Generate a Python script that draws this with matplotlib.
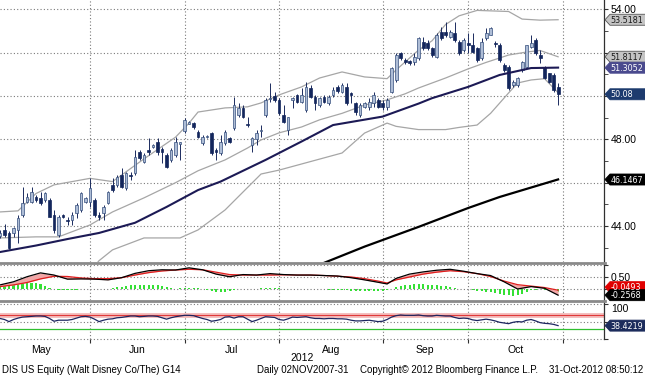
import numpy as np
import matplotlib
matplotlib.use("Agg")
import matplotlib.pyplot as plt
from matplotlib.lines import Line2D
from matplotlib.patches import Polygon
from matplotlib import font_manager

# trading-day slots, 0 = 1 May 2012
day = np.arange(2, 127)
month_starts = [0, 22, 43, 64, 87, 106, 127]
month_names = ["May", "Jun", "Jul", "Aug", "Sep", "Oct"]

opens = [43.54, 43.82, 43.66, 43.66, 43.82, 44.51, 45.12, 45.12, 45.35, 45.28,
         45.20, 45.20, 44.51, 43.60, 44.50, 44.30, 44.28, 44.58, 44.74, 45.10,
         45.12, 45.20, 44.50, 44.58, 45.05, 45.89, 45.89, 46.35, 45.74, 46.35,
         46.43, 47.43, 46.97, 47.50, 47.66, 47.90, 47.54, 47.28, 47.05, 47.28,
         47.80, 48.40, 48.72, 48.74, 48.35, 47.85, 48.10, 48.28, 47.52, 47.35,
         47.85, 48.05, 48.51, 49.12, 49.43, 48.68, 47.74, 48.00, 48.40, 49.12,
         49.85, 50.00, 49.82, 49.12, 48.43, 49.82, 50.05, 49.74, 49.36, 50.36,
         49.97, 49.59, 49.97, 49.70, 50.05, 50.40, 50.20, 50.43, 50.13, 49.66,
         49.12, 49.50, 49.51, 49.66, 49.82, 49.66, 49.51, 50.20, 50.74, 51.97,
         51.66, 51.60, 51.59, 51.74, 52.51, 52.43, 52.20, 51.82, 52.97, 52.97,
         52.70, 52.89, 52.51, 52.12, 52.43, 52.36, 52.20, 51.74, 52.66, 52.82,
         52.45, 52.36, 51.43, 51.36, 50.51, 50.51, 51.20, 51.36, 52.28, 52.59,
         51.89, 51.36, 51.05, 50.97, 50.43]
highs = [43.80, 44.10, 43.75, 43.97, 44.51, 45.82, 45.51, 45.82, 45.42, 45.58,
         45.58, 45.28, 44.74, 44.51, 44.55, 44.43, 44.66, 45.05, 45.58, 45.35,
         46.20, 45.28, 44.66, 44.97, 45.60, 46.20, 46.35, 46.66, 46.50, 46.50,
         47.50, 47.50, 47.35, 48.05, 47.80, 48.05, 47.66, 47.35, 47.58, 48.12,
         47.90, 48.97, 48.85, 48.82, 48.43, 48.20, 48.20, 48.35, 47.60, 48.20,
         48.43, 48.10, 49.97, 49.66, 49.59, 49.02, 48.12, 48.43, 48.66, 49.90,
         50.59, 50.20, 49.90, 49.59, 49.05, 49.97, 50.10, 50.36, 50.66, 50.51,
         50.05, 49.97, 50.05, 50.05, 50.43, 50.51, 50.62, 50.59, 50.20, 49.74,
         49.66, 49.74, 49.90, 50.20, 49.90, 49.82, 49.90, 51.36, 51.97, 52.05,
         51.74, 51.65, 51.97, 52.74, 52.74, 52.59, 52.28, 52.89, 53.20, 53.43,
         53.05, 53.43, 52.59, 52.66, 52.89, 52.89, 52.28, 52.66, 53.12, 53.20,
         52.55, 52.43, 51.51, 51.43, 50.74, 50.89, 51.60, 52.36, 52.82, 52.66,
         52.12, 51.40, 51.08, 51.05, 50.59]
lows = [43.43, 43.50, 42.93, 43.51, 43.20, 44.43, 45.05, 45.05, 45.12, 44.97,
        45.12, 44.40, 43.66, 43.51, 44.35, 44.05, 44.05, 44.35, 44.66, 45.05,
        44.89, 44.43, 44.28, 44.28, 45.00, 45.58, 45.82, 45.74, 45.66, 46.12,
        46.35, 47.05, 46.90, 47.28, 47.60, 47.28, 46.90, 46.66, 46.97, 47.20,
        47.05, 48.28, 48.70, 48.50, 48.05, 47.74, 48.05, 47.28, 47.05, 47.28,
        47.74, 47.85, 48.43, 49.05, 48.97, 48.59, 47.43, 47.74, 48.12, 49.05,
        49.74, 49.74, 49.12, 48.74, 48.20, 49.43, 49.70, 49.66, 49.28, 49.90,
        49.36, 49.51, 49.70, 49.59, 49.97, 50.12, 50.12, 49.59, 49.66, 49.12,
        49.05, 49.43, 49.36, 49.51, 49.43, 49.36, 49.36, 50.12, 50.66, 51.66,
        51.48, 51.45, 51.43, 51.66, 52.12, 52.12, 51.82, 51.74, 52.60, 52.74,
        52.66, 52.51, 51.89, 52.05, 51.97, 51.97, 51.59, 51.66, 52.59, 52.80,
        52.28, 51.59, 51.12, 50.28, 50.43, 50.40, 51.12, 51.28, 52.20, 51.89,
        51.50, 50.77, 50.59, 50.20, 49.59]
closes = [43.66, 43.58, 42.97, 43.89, 44.35, 45.05, 45.35, 45.58, 45.20, 45.05,
          45.51, 44.43, 43.82, 44.43, 44.43, 44.25, 44.51, 44.97, 45.51, 45.28,
          45.74, 44.51, 44.43, 44.89, 45.58, 45.66, 46.28, 45.81, 46.43, 46.30,
          47.20, 47.12, 47.28, 47.43, 47.74, 47.43, 47.43, 46.74, 47.50, 47.89,
          47.86, 48.90, 48.80, 48.58, 48.12, 48.12, 48.14, 47.35, 47.43, 47.89,
          48.35, 47.90, 49.59, 49.43, 49.05, 48.66, 48.05, 48.28, 48.45, 49.82,
          49.90, 49.82, 49.20, 48.82, 49.02, 49.90, 49.74, 50.05, 50.43, 49.97,
          49.66, 49.90, 49.74, 49.97, 50.28, 50.25, 50.51, 49.66, 50.05, 49.28,
          49.59, 49.66, 49.74, 50.05, 49.51, 49.51, 49.82, 51.28, 51.89, 51.74,
          51.55, 51.50, 51.82, 52.66, 52.20, 52.20, 51.89, 52.82, 52.66, 52.82,
          52.94, 52.58, 51.97, 52.59, 52.36, 52.05, 51.66, 52.51, 52.89, 53.12,
          52.40, 51.66, 51.20, 50.36, 50.66, 50.82, 51.58, 52.36, 52.46, 51.97,
          51.74, 50.82, 50.66, 50.28, 50.08]

bb_upper_day = [2, 6, 10, 14, 22, 27, 34, 41, 44, 46, 52, 57, 60, 64, 69, 73, 78,
                83, 88, 90, 95, 98, 101, 104, 108, 115, 118, 122, 126]
bb_upper = [44.65, 44.70, 45.50, 45.90, 46.20, 46.05, 47.10, 48.10, 48.75, 49.26,
            49.45, 49.50, 49.68, 50.05, 50.42, 50.83, 51.11, 50.88, 50.80, 51.20,
            52.12, 52.55, 53.30, 53.70, 53.95, 53.90, 53.55, 53.50, 53.52]
bb_mid_day = [2, 10, 15, 22, 27, 34, 41, 46, 52, 57, 60, 64, 69, 73, 78, 83, 88,
              92, 95, 98, 101, 106, 110, 115, 119, 122, 126]
bb_mid = [43.45, 43.50, 43.50, 44.05, 44.65, 45.30, 46.00, 46.55, 47.05, 47.60,
          47.97, 48.30, 48.57, 48.90, 49.20, 49.58, 49.82, 50.10, 50.37, 50.60,
          50.83, 51.25, 51.55, 51.89, 52.03, 52.10, 51.81]
bb_low_day = [2, 15, 22, 24, 27, 34, 42, 46, 52, 60, 64, 78, 83, 88, 90, 95, 101,
              104, 108, 111, 115, 117, 120, 123, 126]
bb_low = [42.25, 41.90, 41.90, 42.40, 42.90, 43.45, 43.45, 43.82, 44.74, 46.40,
          46.58, 47.37, 48.29, 48.75, 48.60, 48.45, 48.45, 48.55, 48.66, 49.20,
          50.14, 50.60, 50.74, 50.80, 50.15]
ma50_day = [2, 10, 17, 24, 32, 39, 46, 51, 61, 69, 76, 87, 91, 95, 98, 106, 113, 120, 126]
ma50 = [42.80, 43.10, 43.40, 43.68, 44.15, 44.88, 45.66, 46.05, 47.05, 47.90,
        48.66, 49.05, 49.35, 49.65, 49.90, 50.42, 50.97, 51.29, 51.31]
ma200_day = [74, 83, 95, 106, 113, 126]
ma200 = [42.30, 43.05, 43.96, 44.83, 45.34, 46.15]

macd_day = [2, 5, 8, 11, 14, 17, 20, 23, 26, 29, 32, 35, 38, 41, 44, 47, 50, 53,
            56, 59, 62, 65, 68, 71, 74, 77, 80, 83, 86, 88, 90, 93, 96, 99, 102,
            105, 108, 111, 114, 117, 120, 123, 126]
macd = [0.17, 0.30, 0.51, 0.67, 0.58, 0.41, 0.42, 0.41, 0.38, 0.47, 0.65, 0.76,
        0.80, 0.79, 0.88, 0.80, 0.62, 0.51, 0.60, 0.58, 0.64, 0.60, 0.58, 0.58,
        0.56, 0.54, 0.47, 0.38, 0.28, 0.21, 0.44, 0.62, 0.71, 0.78, 0.82, 0.74,
        0.64, 0.56, 0.30, 0.00, 0.10, 0.03, -0.257]
signal = [0.10, 0.17, 0.27, 0.42, 0.53, 0.52, 0.46, 0.43, 0.43, 0.47, 0.58, 0.68,
          0.75, 0.79, 0.82, 0.80, 0.70, 0.60, 0.58, 0.58, 0.58, 0.59, 0.58, 0.58,
          0.56, 0.53, 0.50, 0.43, 0.33, 0.25, 0.38, 0.50, 0.62, 0.70, 0.76, 0.72,
          0.64, 0.52, 0.33, 0.18, 0.12, 0.06, -0.05]
hist = [0.10, 0.14, 0.18, 0.22, 0.25, 0.27, 0.28, 0.27, 0.24, 0.20,
        0.12, 0.05, 0.00, -0.03, -0.04, -0.05, -0.05, -0.04, -0.02, 0.01,
        0.00, -0.02, -0.02, 0.01, 0.02, 0.04, 0.07, 0.10, 0.12, 0.15,
        0.17, 0.18, 0.18, 0.18, 0.17, 0.15, 0.12, 0.08, 0.04, 0.02,
        0.03, 0.05, 0.06, 0.05, 0.03, -0.02, -0.05, -0.10, -0.12, -0.13,
        -0.12, -0.10, -0.05, -0.01, 0.02, 0.02, 0.01, 0.02, 0.03, 0.04,
        0.05, 0.05, 0.04, 0.02, 0.01, 0.00, 0.00, -0.01, -0.01, -0.01,
        -0.02, -0.02, -0.02, -0.03, -0.03, -0.03, -0.04, -0.05, -0.07, -0.09,
        -0.10, -0.10, -0.10, -0.09, -0.09, -0.08, -0.05, 0.02, 0.08, 0.12,
        0.15, 0.17, 0.20, 0.21, 0.20, 0.18, 0.16, 0.15, 0.14, 0.12,
        0.09, 0.05, 0.02, 0.00, -0.02, -0.05, -0.08, -0.10, -0.12, -0.13,
        -0.15, -0.20, -0.24, -0.27, -0.28, -0.25, -0.20, -0.12, -0.05, -0.03,
        -0.02, -0.04, -0.07, -0.10, -0.12]
rsi = [59, 56, 50, 56, 60, 63, 64, 65, 66, 66,
       65, 59, 51, 54, 54, 54, 56, 60, 64, 65,
       63, 57, 50, 54, 57, 58, 61, 62, 64, 66,
       66, 64, 65, 66, 66, 65, 61, 57, 61, 64,
       66, 68, 68, 67, 63, 59, 56, 51, 53, 56,
       63, 64, 60, 64, 64, 57, 50, 54, 59, 64,
       63, 62, 56, 54, 58, 63, 62, 63, 64, 61,
       59, 59, 58, 59, 59, 58, 58, 57, 54, 52,
       52, 53, 54, 52, 50, 51, 56, 63, 67, 69,
       68, 68, 68, 69, 67, 66, 66, 68, 67, 66,
       66, 62, 59, 60, 59, 55, 53, 55, 57, 55,
       52, 48, 46, 44, 48, 50, 49, 54, 56, 52,
       47, 45, 44, 42, 38.42]

names = {f.name for f in font_manager.fontManager.ttflist}
if "Liberation Sans Narrow" in names:
    tag_font, tag_size = "Liberation Sans Narrow", 7.8
else:
    tag_font, tag_size = "DejaVu Sans", 5.8
plt.rcParams["font.family"] = ["Liberation Sans", "DejaVu Sans"]

W, H = 645.0, 378.0
fig = plt.figure(figsize=(W / 100, H / 100), dpi=100)
fig.patch.set_facecolor("white")


def px_axes(top, bottom, right=604):
    return fig.add_axes([0, 1 - bottom / H, right / W, (bottom - top) / H])


ax = px_axes(0, 262)
ax_macd = px_axes(264, 300)
ax_rsi = px_axes(302, 339)

grid_kw = dict(color="#7a7a7a", lw=0.8, linestyle=(0, (1, 2)), zorder=0)
for a in (ax, ax_macd, ax_rsi):
    a.set_xlim(2, 136.2)
    for s in ("top", "left", "bottom"):
        a.spines[s].set_visible(False)
    a.spines["right"].set_color("#303030")
    a.spines["right"].set_linewidth(0.9)
    a.yaxis.tick_right()
    a.tick_params(axis="y", which="both", direction="out", length=3,
                  color="#303030", labelsize=7.5, pad=2)
    for m in month_starts[1:]:
        a.axvline(m, **grid_kw)
    a.set_facecolor("none")

# ---- price panel (labels under the value tags are left blank)
ax.set_ylim(42.34, 54.43)
ax.set_xticks([])
price_ticks = np.arange(44, 55, 2)
ax.set_yticks(price_ticks)
ax.set_yticklabels([f"{v:.2f}" if v in (44, 48, 54) else "" for v in price_ticks])
ax.set_yticks(np.arange(43, 55, 2), minor=True)
for v in price_ticks:
    ax.axhline(v, **grid_kw)

ax.plot(bb_upper_day, bb_upper, color="#a6a6a6", lw=0.9, zorder=2)
ax.plot(bb_mid_day, bb_mid, color="#a6a6a6", lw=0.9, zorder=2)
ax.plot(bb_low_day, bb_low, color="#a6a6a6", lw=0.9, zorder=2)

o, h, l, c = map(np.array, (opens, highs, lows, closes))
up = c >= o
body = np.maximum(np.abs(c - o), 0.05)
base = np.minimum(o, c)
ax.vlines(day, l, h, color="#1b2b5e", lw=0.7, zorder=3)
ax.bar(day[up], body[up], bottom=base[up], width=0.64, color="#aebdd6",
       edgecolor="#36507e", lw=0.5, zorder=4)
ax.bar(day[~up], body[~up], bottom=base[~up], width=0.64, color="#13265c",
       edgecolor="#13265c", lw=0.5, zorder=4)

ax.plot(ma50_day, ma50, color="#1c1a55", lw=1.5, zorder=5)
ax.plot(ma200_day, ma200, color="#000000", lw=1.6, zorder=5)

# ---- MACD panel
ax_macd.set_ylim(-0.458, 1.04)
ax_macd.set_xticks([])
ax_macd.set_yticks([0, 0.5, 1.0])
ax_macd.set_yticklabels(["", "0.50", ""])
for v in (0, 0.5, 1.0):
    ax_macd.axhline(v, **grid_kw)
ax_macd.bar(day, hist, width=0.45, color="#35e035", zorder=2)
ax_macd.fill_between(macd_day, macd, signal, color="#f2a7a7", lw=0, zorder=3)
ax_macd.plot(macd_day, signal, color="#e01e1e", lw=0.9, zorder=4)
ax_macd.plot(macd_day, macd, color="#000000", lw=0.9, zorder=5)

# ---- RSI panel
ax_rsi.set_ylim(0, 106.3)
ax_rsi.set_yticks([0, 50, 100])
ax_rsi.set_yticklabels(["", "", "100"])
ax_rsi.get_yticklabels()[2].set_va("top")
for v in (0, 50, 100):
    ax_rsi.axhline(v, clip_on=False, **grid_kw)
ax_rsi.axhline(70, color="#f4bcbc", lw=3.5, zorder=1)
ax_rsi.axhline(70, color="#e03a3a", lw=0.8, zorder=2)
ax_rsi.axhline(30, color="#2fbf2f", lw=0.9, zorder=2)
ax_rsi.plot(day, rsi, color="#1d2660", lw=0.9, zorder=3)

ax_rsi.set_xticks(month_starts[1:])
ax_rsi.set_xticklabels([])
centers = [(month_starts[k] + month_starts[k + 1]) / 2 for k in range(6)]
ax_rsi.set_xticks(centers, minor=True)
ax_rsi.set_xticklabels(month_names, minor=True)
ax_rsi.tick_params(axis="x", which="major", direction="out", length=3,
                   color="#303030")
ax_rsi.tick_params(axis="x", which="minor", length=0, labelsize=7.5, pad=4)

# panel separators
for y in (263, 301):
    fig.add_artist(Line2D([0, 605 / W], [1 - y / H] * 2, transform=fig.transFigure,
                          color="#8a8a8a", lw=2.0))

# overlay in pixel coordinates for value tags and footer
ov = fig.add_axes([0, 0, 1, 1], zorder=10)
ov.set_xlim(0, W)
ov.set_ylim(H, 0)
ov.axis("off")


def tag(axis, value, text, bg, fg, edge=None, shift=0.0):
    y = H - axis.transData.transform((0, value))[1] + shift
    pts = [(605, y), (610, y - 5.5), (646, y - 5.5), (646, y + 5.5), (610, y + 5.5)]
    ov.add_patch(Polygon(pts, closed=True, facecolor=bg,
                         edgecolor=edge or bg, lw=0.6))
    ov.text(610.5, y + 0.5, text, color=fg, fontsize=tag_size, family=tag_font,
            va="center", ha="left")


tag(ax, 53.5181, "53.5181", "#c4c4c4", "#1a1a1a", "#555555")
tag(ax, 51.8117, "51.8117", "#c4c4c4", "#1a1a1a", "#555555")
tag(ax, 51.3052, "51.3052", "#4a4a8e", "#ffffff")
tag(ax, 50.08, "50.08", "#1d3b6e", "#ffffff")
tag(ax, 46.1467, "46.1467", "#000000", "#ffffff")
tag(ax_macd, -0.0493, "-0.0493", "#e00000", "#ffffff", shift=-3)
tag(ax_macd, -0.2568, "-0.2568", "#000000", "#ffffff")
tag(ax_rsi, 38.4219, "38.4219", "#1c2c5c", "#ffffff")

ov.text(302, 358, "2012", fontsize=7.5, ha="center", va="center")
foot = dict(fontsize=7, va="center")
ov.text(2, 370, "DIS US Equity (Walt Disney Co/The) G14", ha="left", **foot)
ov.text(257, 370, "Daily 02NOV2007-31", ha="left", **foot)
ov.text(360, 370, "Copyright\u00a9 2012 Bloomberg Finance L.P.", ha="left", **foot)
ov.text(643, 370, "31-Oct-2012 08:50:12", ha="right", **foot)

fig.savefig("out.png", dpi=100, facecolor="white")
